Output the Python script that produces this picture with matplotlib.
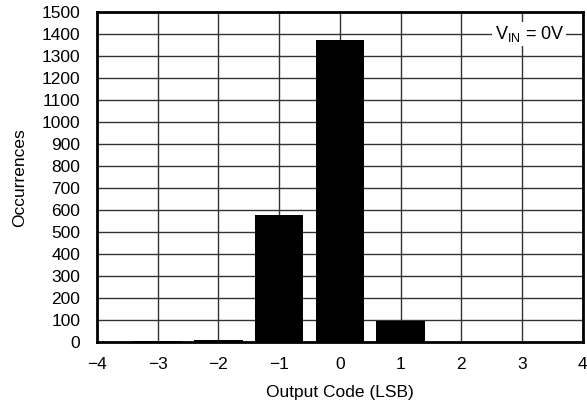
import matplotlib
matplotlib.use("Agg")
import matplotlib.pyplot as plt

codes = [-4, -3, -2, -1, 0, 1, 2, 3, 4]
occurrences = [3, 4, 10, 576, 1375, 95, 3, 3, 3]
xticks = [-4, -3, -2, -1, 0, 1, 2, 3, 4]
xticklabels = ["\u22124", "\u22123", "\u22122", "\u22121", "0", "1", "2", "3", "4"]
yticks = list(range(0, 1501, 100))

plt.rcParams['font.family'] = ['Liberation Sans', 'DejaVu Sans']
fig = plt.figure(figsize=(5.87, 4.04), dpi=100)
ax = fig.add_axes([0.165, 0.153, 0.828, 0.817])

ax.bar(codes, occurrences, width=0.8, color='black', zorder=3)
ax.set_xlim(-4, 4)
ax.set_ylim(0, 1500)
ax.set_xticks(xticks)
ax.set_xticklabels(xticklabels)
ax.set_yticks(yticks)
ax.grid(True, color='#333333', linewidth=1.0, zorder=1)
ax.tick_params(length=0, labelsize=12.5)
ax.tick_params(axis='x', pad=11)
ax.tick_params(axis='y', pad=12)
for s in ax.spines.values():
    s.set_linewidth(2.0)
    s.set_zorder(4)
ax.set_xlabel("Output Code (LSB)", fontsize=12.5, labelpad=9)
ax.set_ylabel("Occurrences", fontsize=12.5, labelpad=10)
ax.text(3.12, 1400, r"V$_{\mathregular{IN}}$ = 0V", fontsize=13, ha='center', va='center',
        bbox=dict(facecolor='white', edgecolor='none', pad=1.5), zorder=5)

fig.savefig("out.png", dpi=100)
